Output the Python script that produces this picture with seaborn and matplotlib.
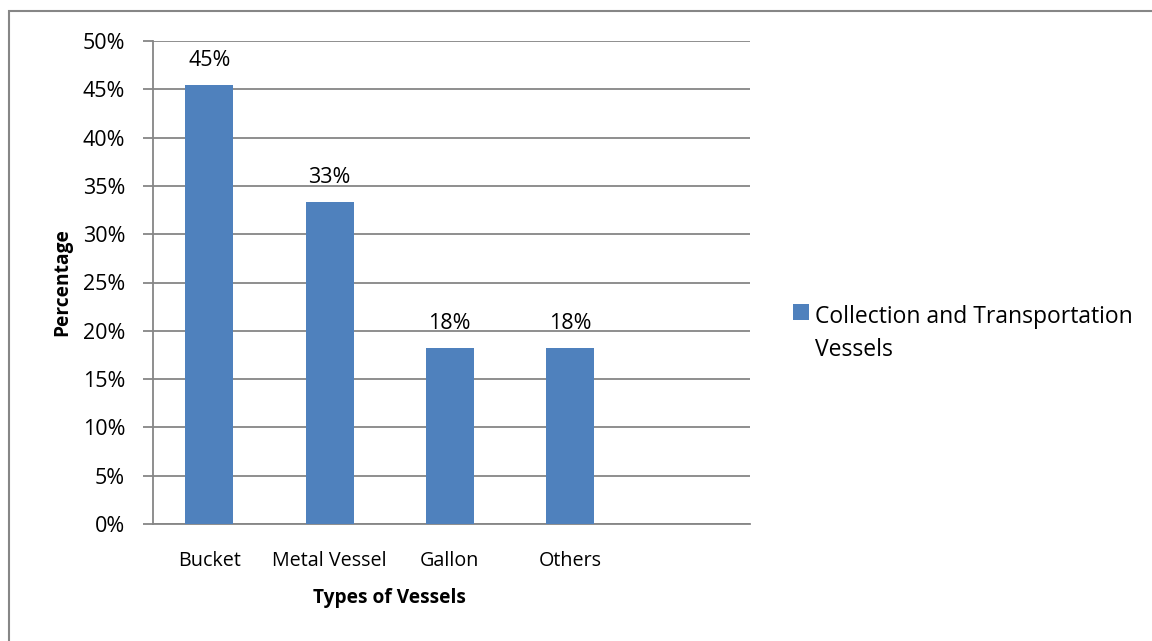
import matplotlib
matplotlib.use("Agg")
import matplotlib.pyplot as plt
from matplotlib.patches import Rectangle
from matplotlib.legend_handler import HandlerPatch
from matplotlib.container import BarContainer
import seaborn as sns
import pandas as pd

categories = ["Bucket", "Metal Vessel", "Gallon", "Others"]
values = [45.45, 33.33, 18.18, 18.18]
series_name = "Collection and Transportation\nVessels"
y_ticks = [0, 5, 10, 15, 20, 25, 30, 35, 40, 45, 50]

sns.set_theme(style="white")
plt.rcParams["font.family"] = ["Open Sans", "DejaVu Sans"]
plt.rcParams["text.color"] = "black"
plt.rcParams["xtick.color"] = "black"
plt.rcParams["ytick.color"] = "black"
plt.rcParams["axes.labelcolor"] = "black"

BAR = "#4F81BD"
GRID = "#868686"
NUM_FS = 15.5     # percentage tick labels and bar values
CAT_FS = 14.2     # category tick labels
TITLE_FS = 13.8   # bold axis titles
LEG_FS = 16.5


class RaisedSquare(HandlerPatch):
    """Legend square aligned with the first line of a two-line label."""

    def __init__(self, dy, **kw):
        super().__init__(**kw)
        self.dy = dy

    def create_artists(self, legend, orig_handle, xdescent, ydescent,
                       width, height, fontsize, trans):
        face = orig_handle.patches[0].get_facecolor()
        p = Rectangle((-xdescent, -ydescent + self.dy), width, height,
                      facecolor=face, edgecolor="none", transform=trans)
        return [p]


df = pd.DataFrame({"Type": categories, "Pct": values})

fig = plt.figure(figsize=(11.52, 6.41), dpi=100)
ax = fig.add_axes([153 / 1152, 1 - 524 / 641, (750 - 153) / 1152, (524 - 41) / 641])

sns.barplot(data=df, x="Type", y="Pct", color=BAR, width=0.4, saturation=1,
            linewidth=0, ax=ax, label=series_name, zorder=3)

ax.set_ylim(0, 50)
ax.set_xlim(-0.47, 4.5)
ax.set_yticks(y_ticks)
ax.set_yticklabels([f"{t}%" for t in y_ticks], fontsize=NUM_FS)
ax.set_xticks(range(len(categories)))
ax.set_xticklabels(categories, fontsize=CAT_FS)
ax.yaxis.grid(True, color=GRID, linewidth=1.3, zorder=0)
ax.tick_params(axis="y", length=7, width=1.3, color=GRID, direction="out", left=True, pad=13)
ax.tick_params(axis="x", length=0, pad=19.5)
for side in ("top", "right"):
    ax.spines[side].set_visible(False)
for side in ("left", "bottom"):
    ax.spines[side].set_color(GRID)
    ax.spines[side].set_linewidth(1.3)
ax.set_xlabel("")
ax.set_ylabel("Percentage", fontsize=TITLE_FS, fontweight="bold")
ax.yaxis.set_label_coords(-0.135, 0.5)

# value labels above each bar
for container in ax.containers:
    ax.bar_label(container, labels=[f"{v:.0f}%" for v in values], fontsize=NUM_FS, padding=10)

# category axis title centred under the four categories
ax.text(1.5, -0.153, "Types of Vessels", transform=ax.get_xaxis_transform(),
        ha="center", va="center", fontsize=TITLE_FS, fontweight="bold")

handles, labels = ax.get_legend_handles_labels()
leg = ax.legend(handles, labels, loc="upper left",
                bbox_to_anchor=(772 / 1152, 1 - 284 / 641),
                bbox_transform=fig.transFigure, frameon=False, fontsize=LEG_FS,
                handlelength=0.7, handleheight=0.7, handletextpad=0.28,
                handler_map={BarContainer: RaisedSquare(dy=0.95 * LEG_FS)})
for t in leg.get_texts():
    t.set_linespacing(1.5)

# outer chart border
fig.add_artist(Rectangle((9 / 1152, -0.1), 1.2, 1 - 11 / 641 + 0.1,
                         transform=fig.transFigure, fill=False,
                         edgecolor=GRID, linewidth=1.5))

fig.savefig("out.png", dpi=100)
